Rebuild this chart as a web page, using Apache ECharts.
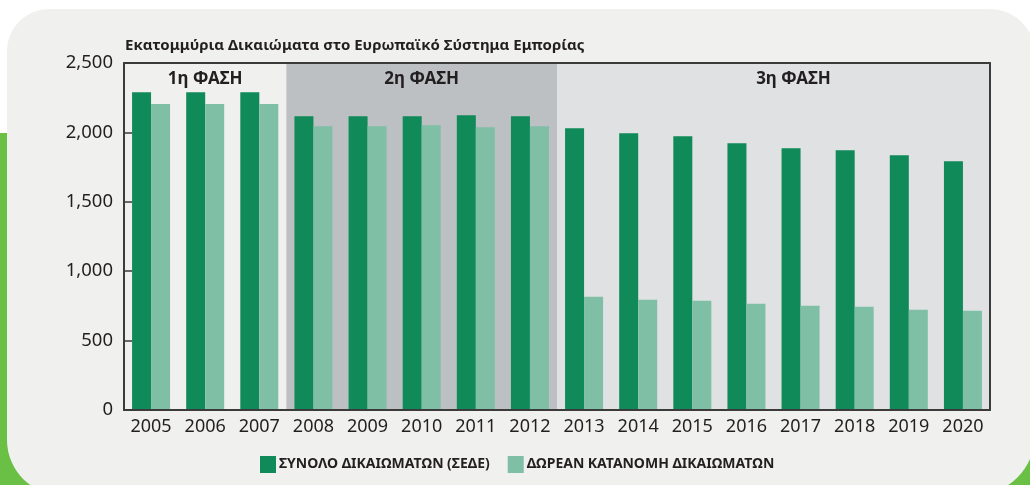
<!DOCTYPE html>
<html>
<head>
<meta charset="utf-8">
<script src="https://cdn.jsdelivr.net/npm/echarts@6/dist/echarts.min.js"></script>
<style>
  html, body { margin: 0; padding: 0; background: #fff; }
  #chart { width: 1030px; height: 485px; }
</style>
</head>
<body>
<div id="chart"></div>
<script>
// data
var years = ['2005', '2006', '2007', '2008', '2009', '2010', '2011', '2012',
             '2013', '2014', '2015', '2016', '2017', '2018', '2019', '2020'];
var totalCaps = [2290, 2290, 2290, 2117, 2117, 2117, 2124, 2117,
                 2030, 1994, 1973, 1922, 1886, 1871, 1835, 1792];
var freeAlloc = [2204, 2204, 2204, 2045, 2045, 2052, 2038, 2045,
                 816, 795, 788, 766, 751, 744, 722, 715];
var phaseNames = ['1η ΦΑΣΗ', '2η ΦΑΣΗ', '3η ΦΑΣΗ'];
var phaseStart = [0, 3, 8];   // in category slots
var phaseEnd = [3, 8, 16];
var yTicks = [0, 500, 1000, 1500, 2000, 2500];

var font = '"Noto Sans", "DejaVu Sans", sans-serif';
var textCol = '#231f20';
var frameCol = '#3b3b3b';
var phaseBg = ['#f0f0ef', '#bdc0c2', '#e0e1e3'];
var phaseOffset = [0, 0, 20];

let myChart = echarts.init(document.getElementById('chart'));

var phaseAreas = phaseNames.map(function (name, i) {
  return [
    { xAxis: phaseStart[i], itemStyle: { color: phaseBg[i] },
      label: { offset: [phaseOffset[i], 0] }, name: name },
    { xAxis: phaseEnd[i] }
  ];
});

var option = {
  backgroundColor: '#ffffff',
  animation: false,
  textStyle: { fontFamily: font },
  graphic: {
    elements: [
      { type: 'rect', z: -100, shape: { x: 0, y: 133, width: 1030, height: 360 },
        style: { fill: '#6abf45' } },
      { type: 'rect', z: -99, shape: { x: 7, y: 9, width: 1028, height: 486, r: [42, 45, 60, 55] },
        style: { fill: '#f0f0ef' } }
    ]
  },
  title: {
    text: 'Εκατομμύρια Δικαιώματα στο Ευρωπαϊκό Σύστημα Εμπορίας',
    left: 120,
    top: 33,
    textStyle: { fontFamily: font, fontSize: 15, fontWeight: 'bold', color: textCol }
  },
  legend: {
    left: 255,
    top: 451,
    icon: 'rect',
    itemWidth: 16,
    itemHeight: 17,
    itemGap: 18,
    textStyle: { fontFamily: font, fontSize: 14, fontWeight: 'bold', color: textCol, padding: [0, 0, 0, -2] },
    data: ['ΣΥΝΟΛΟ ΔΙΚΑΙΩΜΑΤΩΝ (ΣΕΔΕ)', 'ΔΩΡΕΑΝ ΚΑΤΑΝΟΜΗ ΔΙΚΑΙΩΜΑΤΩΝ']
  },
  grid: { left: 124, right: 40, top: 63, bottom: 75 },
  xAxis: [
    {
      type: 'category',
      data: years,
      z: 5,
      axisLine: { lineStyle: { color: frameCol, width: 2 } },
      axisTick: { inside: true, length: 11, interval: 0, lineStyle: { color: frameCol, width: 1.5 } },
      axisLabel: { fontSize: 18, color: textCol, margin: 8, interval: 0, hideOverlap: false, fontFamily: font }
    },
    {
      type: 'value',
      position: 'top',
      min: 0,
      max: 16,
      z: 5,
      axisLine: { show: true, onZero: false, lineStyle: { color: frameCol, width: 2 } },
      axisTick: { show: false },
      axisLabel: { show: false },
      splitLine: { show: false }
    }
  ],
  yAxis: [
    {
      type: 'value',
      min: 0,
      max: 2500,
      interval: 500,
      z: 5,
      axisLine: { show: true, lineStyle: { color: frameCol, width: 2 } },
      axisTick: { show: true, inside: true, length: 8, lineStyle: { color: frameCol, width: 1.5 } },
      splitLine: { show: false },
      axisLabel: {
        fontSize: 18.5, color: textCol, margin: 11, fontFamily: font,
        formatter: function (v) { return yTicks.indexOf(v) >= 0 ? v.toLocaleString('en-US') : ''; }
      }
    },
    {
      type: 'value',
      position: 'right',
      min: 0,
      max: 2500,
      z: 5,
      axisLine: { show: true, lineStyle: { color: frameCol, width: 2 } },
      axisTick: { show: false },
      axisLabel: { show: false },
      splitLine: { show: false }
    }
  ],
  series: [
    {
      type: 'line',
      xAxisIndex: 1,
      yAxisIndex: 0,
      data: [],
      silent: true,
      markArea: {
        silent: true,
        label: {
          show: true,
          position: 'insideTop',
          distance: 8,
          fontFamily: font,
          fontSize: 17,
          fontWeight: 'bold',
          color: textCol
        },
        data: phaseAreas
      }
    },
    {
      name: 'ΣΥΝΟΛΟ ΔΙΚΑΙΩΜΑΤΩΝ (ΣΕΔΕ)',
      type: 'bar',
      barWidth: 19,
      barGap: '0%',
      data: totalCaps,
      itemStyle: { color: '#108a58' }
    },
    {
      name: 'ΔΩΡΕΑΝ ΚΑΤΑΝΟΜΗ ΔΙΚΑΙΩΜΑΤΩΝ',
      type: 'bar',
      barWidth: 19,
      barGap: '0%',
      data: freeAlloc,
      itemStyle: { color: '#7fbfa5' }
    }
  ]
};
myChart.setOption(option, true);
</script>
</body>
</html>
